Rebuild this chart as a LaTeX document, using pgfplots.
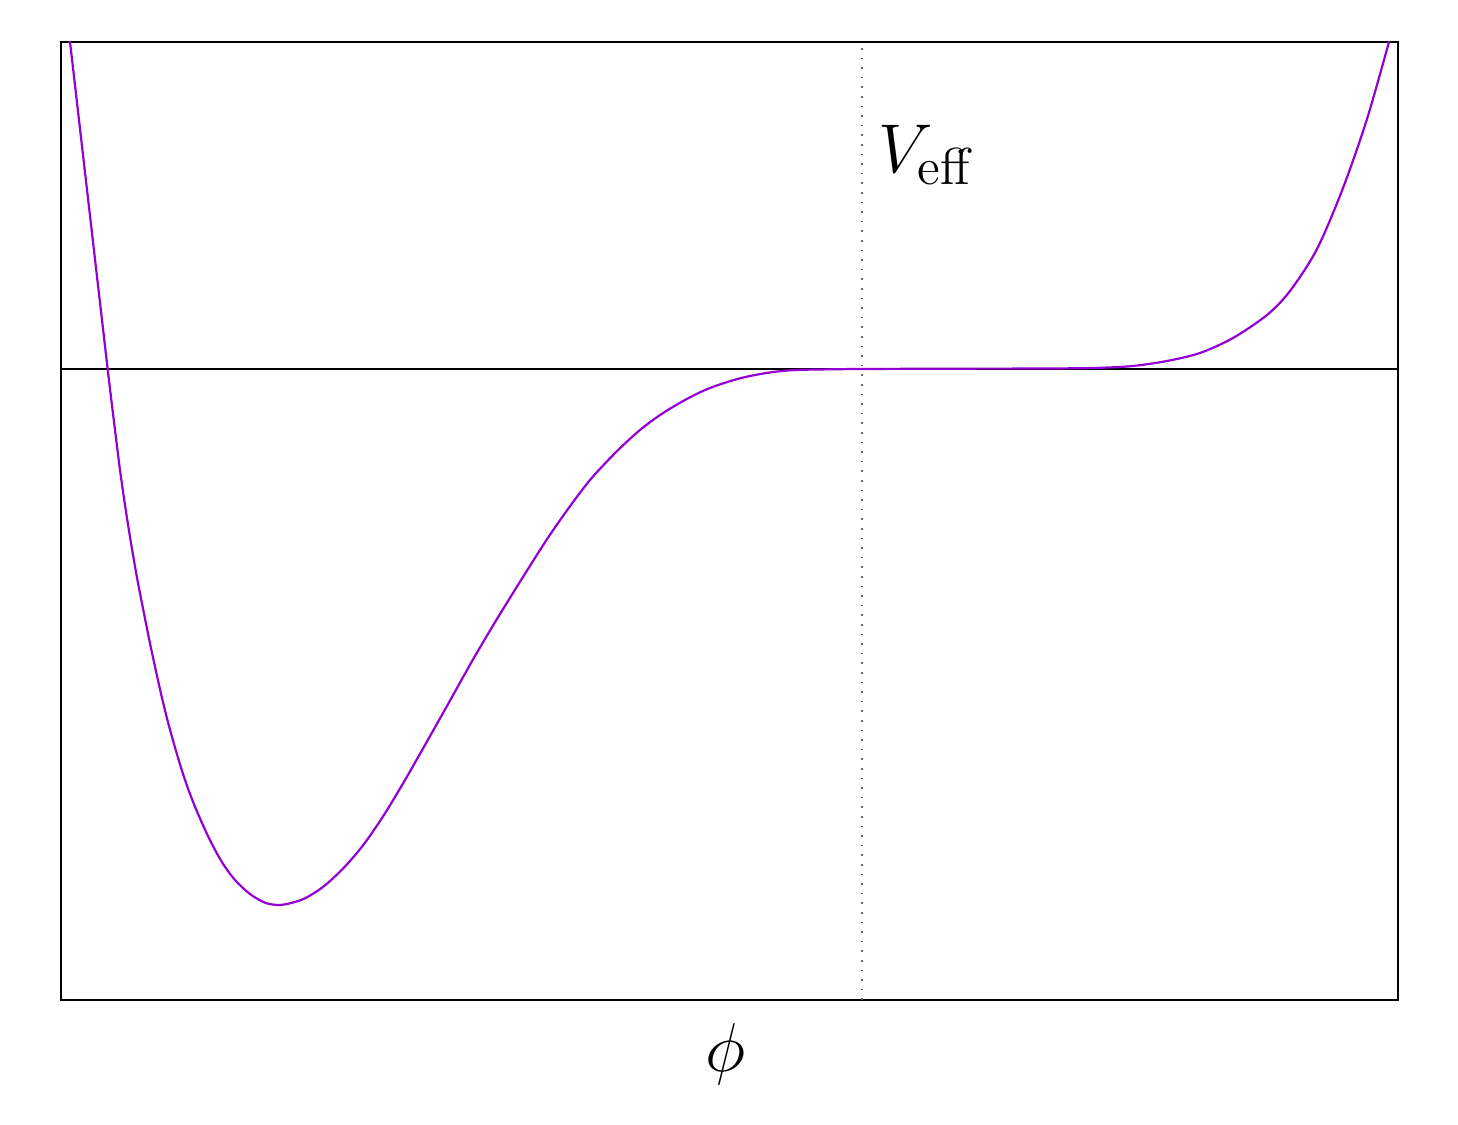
\documentclass[border=0pt]{standalone}
\usepackage{pgfplots}
\pgfplotsset{compat=1.18}
\definecolor{curvepurple}{RGB}{148,0,211}

\begin{document}
\begin{tikzpicture}
\begin{axis}[
    scale only axis, width=334.25pt, height=239.5pt,
    at={(0,0)}, anchor=south west,
    xmin=-8.01, xmax=5.36, ymin=-6.31, ymax=3.27,
    xtick=\empty, ytick=\empty,
    axis line style={line width=0.35pt},
    clip=true,
    xlabel={$\phi$},
    xlabel style={font=\fontsize{16}{19}\selectfont, at={(axis description cs:0.497,-0.057)}, anchor=center},
]
% zero line and phi = 0 marker
\addplot[black, line width=0.3pt] coordinates {(-8.01,0) (5.36,0)};
\addplot[black!60, dotted, line width=0.4pt] coordinates {(0,-6.31) (0,3.27)};
% effective potential
\addplot[curvepurple, line width=0.55pt, smooth, tension=0.5] coordinates {
    (-7.93,3.36) (-7.92,3.273) (-7.73,1.62) (-7.543,-0.003) (-7.47,-0.61)
    (-7.42,-1.01) (-7.37,-1.36) (-7.32,-1.68) (-7.253,-2.07) (-7.187,-2.41)
    (-7.12,-2.743) (-7.07,-2.977) (-7.003,-3.277) (-6.937,-3.543) (-6.853,-3.843)
    (-6.77,-4.11) (-6.67,-4.377) (-6.537,-4.677) (-6.403,-4.927) (-6.27,-5.11)
    (-6.12,-5.25) (-5.97,-5.337) (-5.837,-5.36) (-5.72,-5.343) (-5.57,-5.293)
    (-5.387,-5.177) (-5.187,-4.993) (-4.987,-4.76) (-4.787,-4.47) (-4.587,-4.14)
    (-4.387,-3.79) (-4.15,-3.37) (-3.887,-2.90) (-3.62,-2.45) (-3.22,-1.81)
    (-3.053,-1.56) (-2.887,-1.327) (-2.72,-1.11) (-2.553,-0.927) (-2.387,-0.76)
    (-2.22,-0.61) (-2.053,-0.483) (-1.887,-0.377) (-1.72,-0.283) (-1.553,-0.203)
    (-1.387,-0.143) (-1.22,-0.093) (-1.053,-0.057) (-0.887,-0.03) (-0.72,-0.013)
    (-0.553,-0.007) (-0.22,-0.002) (0,0) (0.88,0.003) (1.88,0.005)
    (2.38,0.012) (2.71,0.03) (3.05,0.08) (3.38,0.16) (3.71,0.31)
    (4.05,0.54) (4.28,0.78) (4.55,1.20) (4.81,1.81) (5.05,2.50)
    (5.27,3.27) (5.33,3.49)
};
\node[anchor=base west, font=\fontsize{17}{20}\selectfont, xshift=-4pt, yshift=1pt]
    at (axis description cs:0.6126,0.860) {$V_{\mbox{\fontsize{13}{13}\selectfont eff}}$};
\end{axis}
\pgfresetboundingbox
\path (-15.25pt,-31.25pt) rectangle (349.25pt,250pt);
\end{tikzpicture}
\end{document}
